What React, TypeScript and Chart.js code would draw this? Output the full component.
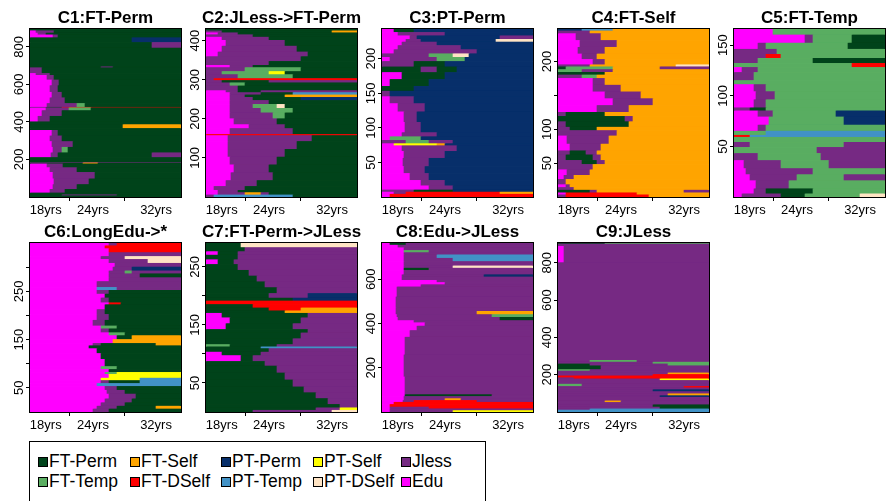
import { useEffect, useRef } from 'react';
import { Chart, registerables } from 'chart.js';

Chart.register(...registerables);

const FONT = '"Liberation Sans", Arial, Helvetica, sans-serif';

// Activity states: code, legend label, colour
const STATE_CODES = ['F', 'S', 'P', 'Y', 'J', 'T', 'D', 'Q', 'Z', 'E'];
const STATE_LABELS = ['FT-Perm', 'FT-Self', 'PT-Perm', 'PT-Self', 'Jless', 'FT-Temp', 'FT-DSelf', 'PT-Temp', 'PT-DSelf', 'Edu'];
const STATE_COLORS = ['#00441B', '#FFA500', '#08306B', '#FFFF00', '#762A83', '#5AAE61', '#FF0000', '#4292C6', '#FFE4C4', '#FF00FF'];

// Age axis (years): one column per pixel of the plot box
const AGE_START = 16;
const AGE_END = 35.17;
const AGE_COLUMNS = 151;
const AGE_STEP = (AGE_END - AGE_START) / AGE_COLUMNS;
const AGE_TICKS = [18, 24, 32];

const PANEL_TITLES = [
  'C1:FT-Perm', 'C2:JLess->FT-Perm', 'C3:PT-Perm', 'C4:FT-Self', 'C5:FT-Temp',
  'C6:LongEdu->*', 'C7:FT-Perm->JLess', 'C8:Edu->JLess', 'C9:JLess',
];
const PANEL_Y_TICKS = [
  [200, 400, 600, 800], [100, 200, 300, 400], [50, 100, 150, 200], [50, 100, 150, 200], [50, 100, 150],
  [50, 100, 150, 200, 250, 300], [50, 100, 150, 200, 250], [200, 400, 600], [200, 400, 600, 800],
];
const PANEL_Y_LABELS = [
  [200, 400, 600, 800], [100, 200, 300, 400], [50, 100, 150, 200], [50, 100, 200], [50, 100, 150],
  [50, 150, 250], [50, 150, 250], [200, 400, 600], [200, 400, 600, 800],
];

// Groups of sequences, bottom to top: [number of sequences, spells].
// A spell is a state code followed by the age at which it ends; the last runs to the end.
const C1_BANDS: [number, string][] = [
  [6, 'F'], [5, 'F20 J27 F'], [10, 'F'], [20, 'E18.6 J20.5 F'], [25, 'E18.9 J22 F'],
  [30, 'E19 J23.5 F'], [35, 'E18.9 J24.3 F'], [25, 'E18.6 J22 F'], [20, 'E18.2 J20.2 F'], [5, 'F22.7 S24.6 F'],
  [3, 'J'], [26, 'F'], [25, 'E18.7 J19.5 F31.5 J'], [30, 'E18.9 J20 T20.8 F'], [30, 'E18.8 J21.5 F'],
  [30, 'E18.5 J20 F'], [30, 'E18.8 J19.5 F'], [10, 'F'], [20, 'F27.8 S'], [15, 'F'],
  [30, 'E17 J18.5 F'], [30, 'E17.5 J20 F'], [15, 'E18 J21 T23.7 F'], [3, 'F20 D'], [20, 'E18.2 J22 T23 F'],
  [30, 'E18.5 J20.5 F'], [30, 'E18.8 J20 F'], [35, 'E18.5 J19.5 F'], [30, 'E18.8 J19.7 F'], [25, 'E18.2 J19 F'],
  [10, 'E16.8 J18.5 F'], [30, 'J17.5 F'], [5, 'F25 J26.5 F'], [100, 'F'], [30, 'F31.5 J'],
  [25, 'F29 P'], [15, 'E18.9 J19.5 F'], [10, 'E17 J18 F'], [12, 'E16.8 J19 F'], [10, 'F'],
];
const C2_BANDS: [number, string][] = [
  [5, 'J17 Q27 F'], [6, 'E17.5 J21 S23 J24 F'], [6, 'E17.5 J20 F'], [10, 'E17 J21 F'], [15, 'E18.5 J22.5 F'],
  [20, 'E19.2 J24.5 F'], [20, 'E19.5 J24 F'], [20, 'E19 J25 F'], [20, 'E18.8 J26 F'], [20, 'E18.8 J27.5 F'],
  [15, 'E18.8 J29.5 F'], [3, 'D'], [15, 'E19 J27 F'], [10, 'E21.5 J26 F'], [15, 'E19.5 J25 F'],
  [15, 'E19 J24.5 T26 F'], [12, 'E19 J23 T27 F'], [10, 'E19 J22 T25 Z26 F'], [10, 'E19 J24 F'], [8, 'E19 J22 F28 P'],
  [6, 'E19 J21 F26 S'], [6, 'E19 J23 F27 Q'], [5, 'E18.5 J20 F23 J'], [12, 'J20 F'], [8, 'J19 T21 F'],
  [6, 'J18 F24 J'], [5, 'J17 D'], [10, 'J20 T27 F'], [8, 'J18 T24 Y26 F'], [10, 'J21 T28 F'],
  [6, 'E19 J22 F'], [10, 'J24 F'], [12, 'J28 F'], [12, 'E17.5 J29 F'], [15, 'E18 J27.5 F'],
  [15, 'E18.5 J26 F'], [8, 'E18 J24 F'], [6, 'J22 F'], [5, 'E17.5 J20 F'], [5, 'J18 F32 S'],
  [5, 'F'],
];
const C3_BANDS: [number, string][] = [
  [4, 'E17 D'], [3, 'E17.5 J19 D31 S'], [3, 'J20 F25 P'], [6, 'E22 J25 P'], [8, 'E21 J24 P'],
  [10, 'E19.5 J22 P'], [10, 'E18.8 J21.5 P'], [12, 'E18.7 J22 P'], [10, 'E18.8 J24 P'], [8, 'E18.5 J25.5 P'],
  [3, 'E17.5 Y23 S24 P'], [5, 'J19 T22 J25 P'], [5, 'E17 T21 P'], [6, 'E18.6 J23 P'], [15, 'E18.9 J21 P'],
  [15, 'E18.8 J20.5 P'], [12, 'E18 J21.5 P'], [10, 'E17 J20 P'], [8, 'J17 P'], [7, 'F20 P'],
  [10, 'E17 F22 P'], [10, 'E18.5 F24 P'], [8, 'F21 J23 F25.5 P'], [8, 'J20 F24 P'], [6, 'E17 J23 T26.5 P'],
  [5, 'J22 T25 Z27 P'], [6, 'E17.5 J28 P'], [6, 'E18 J26 P'], [5, 'E18.5 J23 P'], [4, 'E19 J21 P30.5 Z'],
  [5, 'E19.5 J20.5 P31 J'], [5, 'E18 J24 P'], [5, 'E17.5 F20 P'],
];
const C4_BANDS: [number, string][] = [
  [3, 'J17 D27.5 S'], [3, 'E17 D26 S'], [4, 'F20 J21 S32 J'], [4, 'J18 S'], [4, 'E17 J17.5 S'],
  [8, 'J17 S'], [6, 'E16.8 J18 S'], [8, 'E17.2 J20 S'], [8, 'J20.5 S'], [6, 'J19 F21 J22 S'],
  [8, 'J17 F20.5 J21.5 S'], [6, 'J17.5 F19.5 J21 S'], [10, 'E17.5 J21.5 S'], [12, 'E17.2 J22.5 S'], [8, 'J23.5 S'],
  [5, 'J17.5 F21 S'], [8, 'J17 F25 S'], [8, 'F24.5 J25.5 S'], [6, 'J17 F22 S'], [10, 'E21 J25 S'],
  [10, 'E23 J28 S'], [10, 'E22 J26.5 S'], [10, 'E20.5 J24 S'], [10, 'E20.5 J22 S'], [5, 'J19 T21 S'],
  [4, 'F22 S'], [4, 'T19 J23 S'], [4, 'F17 T23 S29 J'], [3, 'J20 S31 Z'], [8, 'E20.5 J22 S'],
  [8, 'E19 J21 S'], [10, 'E18.5 J22 S'], [10, 'E18.8 J23.5 S'], [10, 'E18.3 J21.5 S'], [4, 'J20 S'],
  [3, 'P19 Q23 S'],
];
const C5_BANDS: [number, string][] = [
  [3, 'E17 J22 F25 T32 Z'], [5, 'E18.5 J20 F26 T'], [8, 'E18.8 J23 T'], [6, 'E18 J24 T30 J'], [6, 'E17.5 J26 T'],
  [8, 'E17.3 J22 T28 J'], [7, 'J19 T27 J'], [6, 'T26.5 J'], [5, 'J18 T30 J'], [5, 'T'],
  [2, 'D18 Q'], [4, 'T20 Q'], [6, 'E19 J20 T'], [8, 'E20.5 T30 P'], [6, 'E19 J21 T29 P'],
  [3, 'J18 F20 T'], [8, 'E18.5 J20 T'], [8, 'E18.8 J21.2 T'], [7, 'E18.5 J20 T'], [4, 'T'],
  [8, 'J18.5 T'], [5, 'E17 J19 T'], [4, 'T31 D'], [5, 'J19 T26 F'], [4, 'J20 D22 T'],
  [5, 'J21.5 T'], [6, 'E19 J20 T30.5 F'], [8, 'E25 J26 T31 F'], [6, 'E21 T'],
];
const C6_BANDS: [number, string][] = [
  [6, 'E24 J26 F'], [6, 'E24.5 J27 F32 S'], [7, 'E25 J28 F'], [8, 'E25.5 J29 F'], [10, 'E26 J29.5 F'],
  [8, 'E25.8 J28 F'], [8, 'E25.5 J27 F'], [6, 'E24.5 Q'], [6, 'E25 J26 F30 Q'], [5, 'E25 Y30 Q'],
  [8, 'E26 Y'], [4, 'E25.5 T27 Y'], [6, 'E26 F'], [6, 'E25 T27 F'], [15, 'E25.5 F'],
  [12, 'E25 F'], [10, 'E24.5 F'], [6, 'E23.5 F'], [5, 'E24 J25 F32 S'], [8, 'E26.5 S'],
  [8, 'E27 F29 S'], [6, 'E26 T28 F'], [8, 'E25 J26 F'], [6, 'E25 T27 F'], [12, 'E24 J25.5 F'],
  [12, 'E24.5 J26 F'], [10, 'E24.5 J25.5 F'], [10, 'E25.5 F'], [4, 'E26 D27.5 F'], [10, 'E25 J26 F'],
  [8, 'E25.5 F'], [8, 'E24.5 J26 F'], [6, 'E24.5 Q27 J'], [12, 'E24.5 J'], [8, 'E26 J'],
  [8, 'E26 J30 F'], [6, 'E26 J28 T29 J'], [8, 'E26.5 J29 P'], [8, 'E26.8 J'], [8, 'E26 J31 Z'],
  [6, 'E25 J28 Z'], [8, 'E26 J'], [8, 'E26 D'], [6, 'E25.5 D'], [6, 'E26 J27 D'],
];
const C7_BANDS: [number, string][] = [
  [3, 'F22 J32 Z'], [4, 'F30 J33 Y'], [6, 'F33 J'], [10, 'F31.5 J'], [10, 'F30 J'],
  [10, 'F28.5 J'], [12, 'F27 J'], [12, 'F26 J'], [12, 'F25 J'], [8, 'F23.5 J'],
  [10, 'E20.5 F22 J'], [6, 'E18 F23 J'], [6, 'F24 J'], [3, 'F23 Q'], [4, 'T19 F25 J'],
  [10, 'F27 J'], [10, 'F28 J'], [6, 'F29 J'], [10, 'E18.5 F27 J'], [10, 'E19 F28 J'],
  [8, 'E18 F29 J'], [4, 'F26 S'], [5, 'F24 D28 S'], [6, 'F22 D'], [6, 'D'],
  [5, 'F27 P'], [8, 'F24 J29 P'], [10, 'F25 J'], [10, 'F23.5 J'], [10, 'F22.5 J'],
  [10, 'F21.5 J'], [10, 'F20 J'], [8, 'E17.5 F19.5 J'], [8, 'F20 J'], [6, 'E17.5 F20 J'],
  [7, 'F21 J'], [8, 'F20.5 Z'],
];
const C8_BANDS: [number, string][] = [
  [6, 'E17 J25 Y'], [8, 'E17 J'], [8, 'E17 J22 D'], [12, 'E17 D'], [10, 'E17.5 D'],
  [8, 'E18.7 J20 D28 J'], [8, 'E18.8 J24 S26 J'], [10, 'E18.8 J'], [8, 'E18.9 F30 J'], [80, 'E18.9 J'],
  [100, 'E18.8 J'], [80, 'E18.9 J'], [30, 'E19.5 J'], [20, 'E20.5 J'], [15, 'E21.5 J'],
  [10, 'E20 J'], [15, 'E18 J31 F'], [12, 'E17.9 J30 T'], [15, 'E17.8 J28 S'], [15, 'E17.8 J'],
  [50, 'E17.8 J'], [45, 'E17.9 J'], [10, 'E21 J'], [10, 'E24 J'], [10, 'E23 J'],
  [15, 'E18.5 J'], [10, 'E18.5 J29 P'], [20, 'E18.8 J'], [10, 'E18.8 F22 J'], [10, 'E18.8 J25 Z'],
  [20, 'E18.8 J'], [15, 'E18.8 J25 Q'], [15, 'E18.8 J23 Q'], [10, 'E18.8 J'], [10, 'E18.8 T22 J'],
  [12, 'E18.8 J'], [12, 'E18 J'], [10, 'E17 F19 J'],
];
const C9_BANDS: [number, string][] = [
  [10, 'Q'], [6, 'J20 Q'], [10, 'J29 F'], [12, 'J28 F'], [13, 'J'],
  [8, 'J22 S24 J'], [20, 'J'], [8, 'J29 P'], [10, 'J30 S'], [12, 'J'],
  [10, 'J28 P'], [10, 'J'], [8, 'J32 D'], [12, 'T19 J'], [20, 'J'],
  [8, 'J29 Y'], [6, 'J18 D'], [10, 'D'], [8, 'J28 D'], [8, 'J30 S'],
  [10, 'J'], [8, 'T20 J'], [20, 'F21.5 J'], [10, 'F20 J30 T'], [10, 'J28 T'],
  [10, 'J20 T26 J'], [523, 'J'], [88, 'E16.8 J'], [12, 'J'], [6, 'F22 T'],
];

const PANEL_BANDS = [C1_BANDS, C2_BANDS, C3_BANDS, C4_BANDS, C5_BANDS, C6_BANDS, C7_BANDS, C8_BANDS, C9_BANDS];

// Page layout (pixels)
const BOX_LEFTS = [30, 206, 382, 558, 734];
const BOX_WIDTH = 151;
const ROW_TOPS = [29, 243];
const ROW_HEIGHTS = [168, 169];
const TITLE_SPACE = 28;
const Y_AXIS_WIDTH = 30;
const X_AXIS_HEIGHT = 26;
const RIGHT_SPACE = 16;

type Spell = { state: string; end: number };

function parseSpells(text: string): Spell[] {
  return text.trim().split(/\s+/).map((tok) => ({
    state: tok[0],
    end: tok.length > 1 ? parseFloat(tok.slice(1)) : Infinity,
  }));
}

function stateAt(spells: Spell[], age: number): string {
  for (const sp of spells) if (age < sp.end) return sp.state;
  return spells[spells.length - 1].state;
}

function colorOf(code: string): string {
  return STATE_COLORS[STATE_CODES.indexOf(code)];
}

const AGES = Array.from({ length: AGE_COLUMNS }, (_, i) => AGE_START + (i + 0.5) * AGE_STEP);

function buildDatasets(bands: [number, string][]) {
  return bands.map(([count, text]) => {
    const spells = parseSpells(text);
    return {
      data: AGES.map((a) => ({ x: a, y: count })),
      backgroundColor: AGES.map((a) => colorOf(stateAt(spells, a))),
      borderWidth: 0,
      barPercentage: 1,
      categoryPercentage: 1,
    };
  });
}

function panelDecor(title: string, yLabels: number[]) {
  return {
    id: 'panelDecor',
    afterDraw(chart: any) {
      const { ctx, chartArea: a, scales } = chart;
      ctx.save();
      ctx.strokeStyle = '#000';
      ctx.lineWidth = 1;
      ctx.strokeRect(a.left - 0.5, a.top - 0.5, a.right - a.left + 1, a.bottom - a.top + 1);
      ctx.fillStyle = '#000';
      ctx.font = `bold 17px ${FONT}`;
      ctx.textAlign = 'center';
      ctx.textBaseline = 'alphabetic';
      ctx.fillText(title, (a.left + a.right) / 2, a.top - 6);
      ctx.font = `13px ${FONT}`;
      for (const v of yLabels) {
        const y = scales.y.getPixelForValue(v);
        ctx.save();
        ctx.translate(a.left - 7, y);
        ctx.rotate(-Math.PI / 2);
        ctx.fillText(String(v), 0, 0);
        ctx.restore();
      }
      ctx.restore();
    },
  };
}

function Panel({ index }: { index: number }) {
  const ref = useRef<HTMLCanvasElement>(null);
  const row = index < 5 ? 0 : 1;
  const col = index < 5 ? index : index - 5;
  const boxH = ROW_HEIGHTS[row];
  const width = Y_AXIS_WIDTH + BOX_WIDTH + RIGHT_SPACE;
  const height = TITLE_SPACE + boxH + X_AXIS_HEIGHT;

  useEffect(() => {
    const bands = PANEL_BANDS[index];
    const total = bands.reduce((s, b) => s + b[0], 0);
    const yTicks = PANEL_Y_TICKS[index];
    const chart = new Chart(ref.current as HTMLCanvasElement, {
      type: 'bar',
      data: { datasets: buildDatasets(bands) as any },
      options: {
        animation: false,
        responsive: false,
        events: [],
        layout: { padding: { top: TITLE_SPACE, right: RIGHT_SPACE, left: 0, bottom: 0 } },
        plugins: { legend: { display: false }, tooltip: { enabled: false }, title: { display: false } },
        scales: {
          x: {
            type: 'linear',
            stacked: true,
            offset: false,
            min: AGE_START,
            max: AGE_END,
            afterBuildTicks: (s: any) => { s.ticks = AGE_TICKS.map((v) => ({ value: v })); },
            afterFit: (s: any) => { s.height = X_AXIS_HEIGHT; },
            ticks: {
              callback: (v: any) => `${v}yrs`,
              font: { family: FONT, size: 13 },
              color: '#000',
              padding: 2,
              autoSkip: false,
              maxRotation: 0,
              minRotation: 0,
            },
            grid: { drawOnChartArea: false, drawTicks: true, tickLength: 4, color: '#000' },
            border: { display: false },
          },
          y: {
            type: 'linear',
            stacked: true,
            min: 0,
            max: total,
            afterBuildTicks: (s: any) => { s.ticks = yTicks.map((v) => ({ value: v })); },
            afterFit: (s: any) => { s.width = Y_AXIS_WIDTH; },
            ticks: { display: false },
            grid: { drawOnChartArea: false, drawTicks: true, tickLength: 4, color: '#000' },
            border: { display: false },
          },
        },
      } as any,
      plugins: [panelDecor(PANEL_TITLES[index], PANEL_Y_LABELS[index])],
    });
    return () => chart.destroy();
  }, [index]);

  return (
    <canvas
      ref={ref}
      width={width}
      height={height}
      style={{
        position: 'absolute',
        left: BOX_LEFTS[col] - Y_AXIS_WIDTH,
        top: ROW_TOPS[row] - TITLE_SPACE,
        width,
        height,
      }}
    />
  );
}

const LEGEND_COL_X = [38, 130, 221, 313, 401];
const LEGEND_ROW_Y = [462, 482];

function Legend() {
  return (
    <div
      style={{
        position: 'absolute',
        left: 29,
        top: 441,
        width: 457,
        height: 80,
        border: '1px solid #000',
        boxSizing: 'border-box',
      }}
    >
      {STATE_LABELS.map((label, i) => {
        const r = i < 5 ? 0 : 1;
        const c = i % 5;
        const x = LEGEND_COL_X[c] - 29;
        const y = LEGEND_ROW_Y[r] - 441;
        return (
          <div key={label}>
            <div
              style={{
                position: 'absolute',
                left: x - 1,
                top: y - 6,
                width: 10,
                height: 10,
                background: STATE_COLORS[i],
                border: '1px solid #000',
                boxSizing: 'border-box',
              }}
            />
            <div
              style={{
                position: 'absolute',
                left: x + 10,
                top: y - 12,
                fontFamily: FONT,
                fontSize: 17.5,
                lineHeight: '20px',
                whiteSpace: 'nowrap',
                color: '#000',
              }}
            >
              {label}
            </div>
          </div>
        );
      })}
    </div>
  );
}

export default function App() {
  return (
    <div
      style={{
        position: 'fixed',
        left: 0,
        top: 0,
        width: 886,
        height: 501,
        background: '#fff',
        overflow: 'hidden',
      }}
    >
      {PANEL_TITLES.map((_, i) => (
        <Panel key={i} index={i} />
      ))}
      <Legend />
    </div>
  );
}
